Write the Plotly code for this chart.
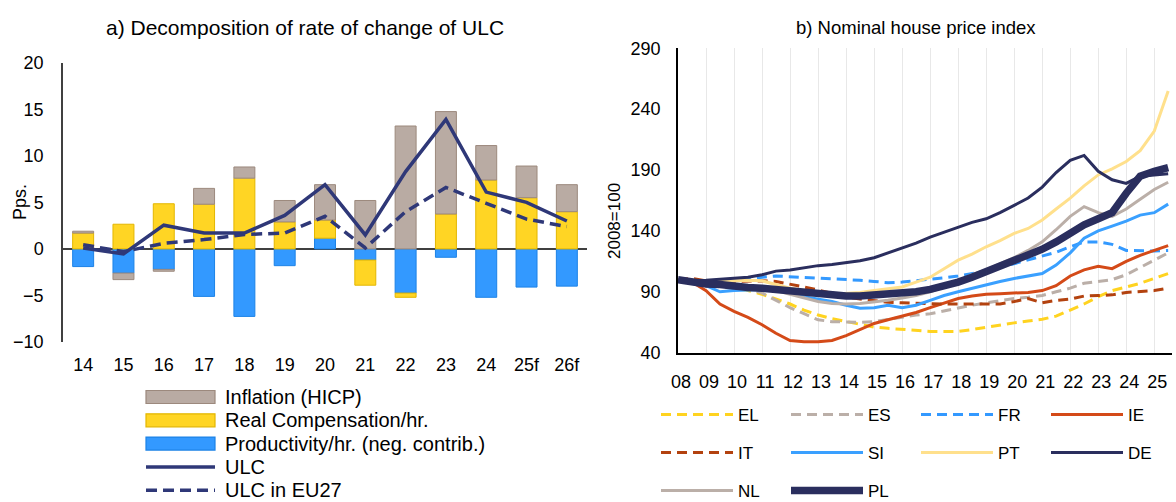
import pandas as pd
import plotly.graph_objects as go

# ---------------- panel a) decomposition of ULC growth ----------------
years_a = ["14", "15", "16", "17", "18", "19", "20", "21", "22", "23", "24", "25f", "26f"]
inflation = [0.2, -0.7, -0.2, 1.7, 1.2, 2.3, 3.8, 5.2, 13.2, 11.0, 3.7, 3.4, 2.9]
real_comp = [1.7, 2.65, 4.85, 4.8, 7.6, 2.9, 1.95, -2.7, -0.45, 3.75, 7.4, 5.5, 4.0]
productivity = [-1.9, -2.6, -2.2, -5.1, -7.25, -1.8, 1.15, -1.2, -4.75, -0.9, -5.2, -4.1, -4.0]
ulc = [0.1, -0.55, 2.55, 1.7, 1.7, 3.6, 6.9, 1.5, 8.3, 13.9, 6.1, 5.0, 3.0]
ulc_eu27 = [0.45, -0.3, 0.6, 1.0, 1.55, 1.7, 3.5, 0.1, 4.0, 6.6, 4.9, 3.2, 2.4]
yticks_a = [-10, -5, 0, 5, 10, 15, 20]

# ---------------- panel b) nominal house price index (2008=100) -------
periods_b = pd.date_range("2008-01-01", periods=36, freq="6MS")
hpi_EL = [100, 99, 97, 95, 93, 91, 88, 84, 80, 75, 71, 68, 65.5, 63, 61, 60, 59, 58,
          57.5, 57.5, 57.5, 59, 61, 63, 64.5, 66, 67.5, 70, 75, 80, 86, 91, 94, 97, 101, 105]
hpi_ES = [100, 100, 97, 94, 93, 92.5, 89, 83, 77, 72, 67, 65.5, 65, 65, 65.5, 67.5, 69.5, 71,
          72, 74.5, 76.5, 79, 81, 83, 84.5, 85.5, 87, 90, 93, 97, 98.5, 100, 104, 110, 116, 122]
hpi_FR = [100, 100, 97, 96, 98, 100, 102, 103, 102.5, 102, 101, 100.5, 100, 99.5, 98.5, 97.5, 98, 99,
          100, 101.5, 103, 105, 107, 110, 113, 116, 119, 122.5, 127, 131, 131, 129, 124, 123.5, 123.5, 124]
hpi_IE = [100, 98, 91, 80, 74, 69, 63, 56, 50, 49, 49, 50, 54, 59, 64, 67, 70, 73,
          77, 81, 84.5, 86.5, 88, 88.5, 89, 89.5, 91, 95, 103, 108, 111, 109, 115, 120, 124, 128]
hpi_IT = [100, 101, 99, 98, 98.5, 99, 99, 98.5, 96.5, 94, 91.5, 88.5, 86, 84, 82.5, 81.5, 81, 80.5,
          80.5, 80, 80, 80, 79.5, 80, 82, 84.5, 81, 83, 84, 86.5, 87, 87.5, 89.5, 90.5, 91, 93]
hpi_SI = [100, 99, 95, 90, 91, 91.5, 92, 91, 89, 86, 84, 82, 79, 76.5, 77, 79, 77, 79,
          83, 87, 90, 93, 95.5, 98.5, 101, 103, 105, 112, 122, 134, 140, 144, 148, 153, 155, 162]
hpi_PT = [100, 99, 98, 98.5, 99, 99.5, 99, 96, 93, 91, 89, 88, 88.5, 89.5, 91, 92.5, 94, 98,
          102, 109, 116, 121, 127, 132, 138, 142, 149, 158, 167, 177, 186, 191, 197, 206, 222, 255]
hpi_DE = [100, 99, 99.5, 100.5, 101, 102, 104, 107, 108, 110, 111.5, 112.5, 114, 115.5, 118, 122, 126, 130,
          135, 139, 143, 147, 150, 155, 161, 167, 176, 188, 198, 202, 189, 182, 179, 185, 186, 187]
hpi_NL = [100, 100, 97, 95, 95, 94.5, 93, 91, 88, 85, 82, 80.5, 80, 80.5, 81.5, 83, 85, 87,
          90, 94, 99, 104, 108, 113, 118, 124, 131, 141, 152, 160, 155, 152, 158, 166, 174, 180]
hpi_PL = [100, 98, 96.5, 96, 94, 93.5, 93, 92, 91, 89, 87.5, 86.5, 86.5, 86.5, 87, 88, 89, 90,
          92, 94.5, 98, 102, 106.5, 111, 116, 120, 125, 131, 139, 145, 150, 155, 171, 185, 189, 192]
yticks_b = [40, 90, 140, 190, 240, 290]

W, H = 1176, 502
FONT = "Liberation Sans, Arial, sans-serif"


def px_x(v):
    return v / W


def px_y(v):
    return 1 - v / H


fig = go.Figure()

ULC_COLOR = "#2F3878"
EU_DASH = "11px,6px"

# stacked contributions (productivity first so it sits next to zero)
bar_specs = [
    ("Productivity/hr. (neg. contrib.)", productivity, "#3399FF", "#1C82E6"),
    ("Real Compensation/hr.", real_comp, "#FFD524", "#E3B600"),
    ("Inflation (HICP)", inflation, "#B9ABA3", "#9C897D"),
]
for name, vals, fill, edge in bar_specs:
    fig.add_trace(go.Bar(
        x=years_a, y=vals, name=name, width=0.52,
        marker=dict(color=fill, line=dict(color=edge, width=1)),
        xaxis="x", yaxis="y", showlegend=False,
    ))

fig.add_trace(go.Scatter(
    x=years_a, y=ulc, name="ULC", mode="lines",
    line=dict(color=ULC_COLOR, width=3.5),
    xaxis="x", yaxis="y", showlegend=False,
))
fig.add_trace(go.Scatter(
    x=years_a, y=ulc_eu27, name="ULC in EU27", mode="lines",
    line=dict(color=ULC_COLOR, width=3.5, dash=EU_DASH),
    xaxis="x", yaxis="y", showlegend=False,
))

# house price lines; each legend row is its own legend box
dash_b = "10px,6px"
line_specs = [
    ("EL", hpi_EL, "#FFD320", 3, dash_b, "legend"),
    ("ES", hpi_ES, "#BBAFA8", 3, dash_b, "legend"),
    ("FR", hpi_FR, "#3399FF", 3, dash_b, "legend"),
    ("IE", hpi_IE, "#D44A18", 3, "solid", "legend"),
    ("IT", hpi_IT, "#B3420F", 3, dash_b, "legend2"),
    ("SI", hpi_SI, "#3AA0FF", 3, "solid", "legend2"),
    ("PT", hpi_PT, "#FFE08C", 3, "solid", "legend2"),
    ("DE", hpi_DE, "#2A2E5E", 3, "solid", "legend2"),
    ("NL", hpi_NL, "#BBAFA8", 3, "solid", "legend3"),
    ("PL", hpi_PL, "#2A2E5E", 7.5, "solid", "legend3"),
]
for name, vals, color, width, dash, leg in line_specs:
    fig.add_trace(go.Scatter(
        x=periods_b, y=vals, name=name, mode="lines",
        line=dict(color=color, width=width, dash=dash),
        xaxis="x2", yaxis="y2", legend=leg,
    ))

tick_font = dict(family=FONT, size=18, color="#000000")
leg_font_b = dict(family=FONT, size=17, color="#000000")


def row_legend(y_px):
    return dict(
        x=px_x(656), y=px_y(y_px), xanchor="left", yanchor="middle",
        orientation="h", font=leg_font_b, itemwidth=72,
        entrywidth=43, bgcolor="rgba(0,0,0,0)",
    )


# key for panel a): swatches and labels below the bar chart
key_rows = [
    ("Inflation (HICP)", "rect", "#B9ABA3", "#9C897D"),
    ("Real Compensation/hr.", "rect", "#FFD524", "#E3B600"),
    ("Productivity/hr. (neg. contrib.)", "rect", "#3399FF", "#1C82E6"),
    ("ULC", "line", ULC_COLOR, None),
    ("ULC in EU27", "dash", ULC_COLOR, None),
]
shapes = []
annotations = []
for i, (label, kind, color, edge) in enumerate(key_rows):
    yc = 397 + 23.3 * i
    if kind == "rect":
        shapes.append(dict(
            type="rect", xref="paper", yref="paper",
            x0=px_x(146), x1=px_x(215), y0=px_y(yc + 6.5), y1=px_y(yc - 6.5),
            fillcolor=color, line=dict(color=edge, width=1.2),
        ))
    else:
        shapes.append(dict(
            type="line", xref="paper", yref="paper",
            x0=px_x(146), x1=px_x(215), y0=px_y(yc), y1=px_y(yc),
            line=dict(color=color, width=3.5, dash=EU_DASH if kind == "dash" else "solid"),
        ))
    annotations.append(dict(
        text=label, x=px_x(223), y=px_y(yc), xref="paper", yref="paper",
        xanchor="left", yanchor="middle", showarrow=False,
        font=dict(family=FONT, size=20, color="#000000"),
    ))

annotations += [
    dict(text="a) Decomposition of rate of change of ULC", x=px_x(305), y=px_y(28),
         xref="paper", yref="paper", showarrow=False, xanchor="center", yanchor="middle",
         font=dict(family=FONT, size=21, color="#000000")),
    dict(text="b) Nominal house price index", x=px_x(916), y=px_y(28),
         xref="paper", yref="paper", showarrow=False, xanchor="center", yanchor="middle",
         font=dict(family=FONT, size=18.5, color="#000000")),
    dict(text="Pps.", x=px_x(20), y=px_y(202), xref="paper", yref="paper",
         showarrow=False, textangle=-90, xanchor="center", yanchor="middle",
         font=dict(family=FONT, size=18, color="#000000")),
    dict(text="2008=100", x=px_x(614), y=px_y(221), xref="paper", yref="paper",
         showarrow=False, textangle=-90, xanchor="center", yanchor="middle",
         font=dict(family=FONT, size=17, color="#000000")),
]

fig.update_layout(
    width=W, height=H,
    margin=dict(l=0, r=0, t=0, b=0, autoexpand=False),
    paper_bgcolor="white", plot_bgcolor="white",
    font=dict(family=FONT, size=17, color="#000000"),
    barmode="relative",
    xaxis=dict(
        domain=[px_x(63), px_x(587)], anchor="y", type="category",
        range=[-0.5, 12.5], showline=False, showgrid=False, zeroline=False,
        ticks="", tickfont=tick_font, ticklabelstandoff=10, automargin=False,
    ),
    yaxis=dict(
        domain=[px_y(342), px_y(62.7)], anchor="x",
        range=[-10, 20], tickvals=yticks_a, showgrid=False,
        showline=True, linecolor="#404040", linewidth=1.5,
        zeroline=True, zerolinecolor="#404040", zerolinewidth=2,
        ticks="", tickfont=tick_font, ticklabelstandoff=14, automargin=False,
    ),
    xaxis2=dict(
        domain=[px_x(678), px_x(1172)], anchor="y2", type="date",
        range=["2008-01-01", "2025-08-20"], tick0="2008-01-01", dtick="M12",
        tickformat="%y", showgrid=True, gridcolor="#E8E8E8", gridwidth=1,
        showline=True, linecolor="#000000", linewidth=1.5, zeroline=False,
        ticks="", tickfont=tick_font, ticklabelstandoff=12, ticklabelshift=3,
        automargin=False,
    ),
    yaxis2=dict(
        domain=[px_y(352.7), px_y(48.3)], anchor="x2",
        range=[40, 290], tickvals=yticks_b, showgrid=False,
        showline=True, linecolor="#000000", linewidth=1.5, zeroline=False,
        ticks="", tickfont=tick_font, ticklabelstandoff=12, automargin=False,
    ),
    legend=row_legend(415),
    legend2=row_legend(453),
    legend3=row_legend(491),
    shapes=shapes,
    annotations=annotations,
)

fig.write_html("out.html")
